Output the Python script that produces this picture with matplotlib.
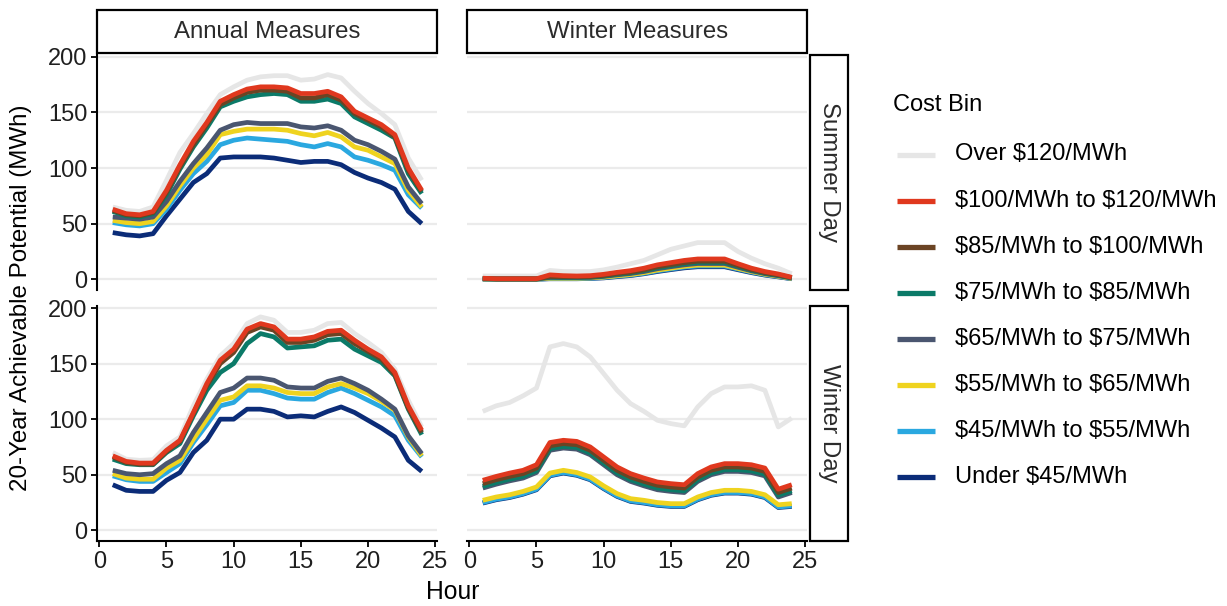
import numpy as np
import matplotlib
matplotlib.use('Agg')
import matplotlib.pyplot as plt
from matplotlib.patches import Rectangle
from matplotlib.lines import Line2D

plt.rcParams['font.family'] = ['Liberation Sans', 'DejaVu Sans']

# ---- data ----
hours = list(range(1, 25))

cost_bins = ['Over $120/MWh', '$100/MWh to $120/MWh', '$85/MWh to $100/MWh',
             '$75/MWh to $85/MWh', '$65/MWh to $75/MWh', '$55/MWh to $65/MWh',
             '$45/MWh to $55/MWh', 'Under $45/MWh']
bin_colors = ['#E6E6E6', '#E0381E', '#6B4424', '#0B7A68', '#4A5670',
              '#EFD31F', '#2AA8E0', '#0B2C78']

# Annual Measures, Summer Day
as_over = [65, 62, 61, 65, 89, 114, 131, 149, 166, 173, 179, 182, 183, 183, 179, 180, 184, 181, 169, 158, 149, 139, 109, 89]
as_100 = [63, 59, 58, 61, 80, 103, 124, 141, 160, 166, 171, 173, 173, 172, 167, 167, 169, 164, 151, 145, 139, 130, 100, 80]
as_85 = [62, 58, 57, 60, 78, 101, 121, 139, 157, 163, 168, 170, 170, 169, 163, 163, 166, 161, 149, 143, 137, 128, 98, 79]
as_75 = [61, 57, 56, 59, 76, 99, 119, 136, 155, 160, 164, 166, 167, 166, 160, 160, 162, 158, 146, 140, 134, 127, 95, 77]
as_65 = [56, 55, 54, 56, 70, 88, 104, 118, 134, 139, 141, 140, 140, 140, 137, 136, 138, 134, 125, 121, 115, 108, 83, 68]
as_55 = [53, 51, 50, 52, 66, 84, 100, 112, 130, 133, 135, 135, 135, 134, 131, 129, 132, 128, 119, 116, 110, 104, 80, 65]
as_45 = [51, 49, 48, 50, 63, 80, 95, 106, 121, 125, 127, 126, 125, 124, 121, 119, 122, 119, 110, 107, 103, 98, 76, 64]
as_under = [42, 40, 39, 41, 57, 72, 87, 95, 109, 110, 110, 110, 109, 107, 105, 106, 106, 103, 96, 91, 87, 81, 61, 50]

# Annual Measures, Winter Day
aw_over = [70, 64, 63, 63.5, 76, 84, 112, 136, 157, 168, 186, 192, 189, 178, 178, 180, 186, 187, 177, 169, 160, 145, 117, 93]
aw_100 = [67, 62, 60.5, 60.5, 72, 81, 106, 132, 153, 163, 181, 186, 183, 172, 172, 174, 179, 180, 171, 163, 156, 142, 112, 90]
aw_85 = [66, 61, 59.5, 59.5, 71, 80, 105, 130, 150, 160, 178, 183, 180, 169, 169, 171, 176, 177, 168, 161, 154, 140, 110, 88]
aw_75 = [64, 60, 59, 59, 70, 78, 103, 126, 142, 150, 168, 177, 174, 164, 165, 166, 171, 172, 163, 157, 151, 139, 109, 86]
aw_65 = [54, 51, 50, 51, 60, 67, 88, 106, 124, 128, 137, 137, 135, 129, 128, 128, 134, 137, 132, 126, 118, 109, 85, 69]
aw_55 = [51, 47, 46, 46, 56, 63, 82, 100, 117, 120, 130, 130, 128, 124, 123, 123, 129, 132, 128, 123, 116, 108, 84, 67]
aw_45 = [49, 45.5, 44, 44, 52, 60, 79, 95, 112, 115, 126, 126, 123, 119, 118, 118, 124, 128, 123, 117, 111, 103, 81, 66]
aw_under = [41, 36, 35, 35, 45, 52, 70, 81, 100, 100, 109, 109, 107, 102, 103, 102, 107, 111, 106, 99, 92, 84, 63, 53]

# Winter Measures, Summer Day
ws_over = [3, 3, 3, 3, 3, 8, 7, 7, 7, 8.5, 11, 14, 17, 22, 27, 30, 33, 33, 33, 25, 19, 14, 10, 5]
ws_100 = [1, 0.5, 0.5, 0.5, 0.5, 4, 3.3, 3, 3.3, 4.5, 6.3, 7.8, 10, 13, 15, 17, 18.3, 18.3, 18.3, 14, 10, 7, 4.8, 1.8]
ws_85 = [0.8, 0.4, 0.4, 0.4, 0.4, 2.5, 2.3, 2.2, 2.5, 3.5, 5.2, 6.5, 8.5, 11.3, 13.2, 15, 16.3, 16.3, 16.3, 12.5, 8.8, 6, 4, 1.5]
ws_75 = [0.6, 0.3, 0.3, 0.3, 0.3, 2, 1.8, 1.8, 2, 3, 4.6, 5.8, 7.8, 10.4, 12.2, 14, 15.2, 15.2, 15.2, 11.6, 8.2, 5.5, 3.6, 1.3]
ws_65 = [0.5, 0.3, 0.3, 0.3, 0.3, 1.6, 1.5, 1.5, 1.7, 2.6, 4, 5.2, 7, 9.5, 11.3, 13, 14.2, 14.2, 14.2, 10.8, 7.6, 5.1, 3.2, 1.1]
ws_55 = [0.3, 0.2, 0.2, 0.2, 0.2, 1, 1, 1, 1.3, 2, 3.2, 4.3, 6, 8.3, 10, 11.7, 12.8, 12.8, 12.8, 9.8, 7, 4.6, 2.8, 0.8]
ws_45 = [0.2, 0.1, 0.1, 0.1, 0.1, 0.7, 0.7, 0.7, 1, 1.6, 2.8, 3.8, 5.4, 7.6, 9.3, 11, 12, 12, 12, 9.2, 6.5, 4.2, 2.5, 0.6]
ws_under = [0.1, 0.1, 0.1, 0.1, 0.1, 0.5, 0.5, 0.5, 0.8, 1.3, 2.4, 3.4, 5, 7, 8.7, 10.3, 11.3, 11.3, 11.3, 8.6, 6, 3.8, 2.2, 0.5]

# Winter Measures, Winter Day
ww_over = [107, 112, 115, 121, 128, 165, 168, 165, 156, 141, 126, 114, 107, 99, 96, 94, 111, 123, 129, 129, 130, 126, 93, 101]
ww_100 = [45, 48.5, 51.5, 54, 59, 79, 81, 80, 75, 66, 57, 51, 47, 43.5, 42, 41, 51, 57, 60, 60, 59, 56, 37, 41]
ww_85 = [42, 45.5, 48.5, 51, 56, 76, 78, 77, 72, 63, 54, 48, 44, 40.5, 39, 38, 48, 54, 57, 57, 56, 53, 34, 38]
ww_75 = [39.5, 43, 46, 48.5, 53.5, 73.5, 75.5, 74.5, 69.5, 60.5, 51.5, 45.5, 41.5, 38, 36.5, 35.5, 45.5, 51.5, 54.5, 54.5, 53.5, 50.5, 31.5, 35.5]
ww_65 = [38, 41.5, 44.5, 47, 52, 72, 74, 73, 68, 59, 50, 44, 40, 36.5, 35, 34, 44, 50, 53, 53, 52, 49, 30, 34]
ww_55 = [27, 30, 32, 35, 39, 51.5, 54, 52, 48, 40, 33, 28.5, 27, 25, 24, 24, 30, 34, 36, 36, 35, 32, 23, 24]
ww_45 = [25, 28, 30, 33, 37, 49.5, 52, 50, 46, 38, 31, 26.5, 25, 23, 22, 22, 28, 32, 34, 34, 33, 30, 21, 22]
ww_under = [24.5, 27.5, 29.5, 32.5, 36.5, 49, 51.5, 49.5, 45.5, 37.5, 30.5, 26, 24.5, 22.5, 21.5, 21.5, 27.5, 31.5, 33.5, 33.5, 32.5, 29.5, 20.5, 21.5]

panels = {
    ('Annual Measures', 'Summer Day'): [as_over, as_100, as_85, as_75, as_65, as_55, as_45, as_under],
    ('Annual Measures', 'Winter Day'): [aw_over, aw_100, aw_85, aw_75, aw_65, aw_55, aw_45, aw_under],
    ('Winter Measures', 'Summer Day'): [ws_over, ws_100, ws_85, ws_75, ws_65, ws_55, ws_45, ws_under],
    ('Winter Measures', 'Winter Day'): [ww_over, ww_100, ww_85, ww_75, ww_65, ww_55, ww_45, ww_under],
}
measures = ['Annual Measures', 'Winter Measures']
days = ['Summer Day', 'Winter Day']

# draw order: grey first, then cheapest up to most expensive on top
draw_order = [0, 7, 6, 5, 4, 3, 2, 1]

W, H = 1227, 606
fig = plt.figure(figsize=(W / 100, H / 100), dpi=100)

# panel boxes in pixels (left, top, right, bottom)
col_x = [(97.3, 437.2), (467.3, 807.2)]
row_y = [(54.8, 290.0), (306.0, 541.0)]

txt_col = '#1f1f1f'
lw = 3.4

def fx(px):
    return px / W

def fy(py):
    return 1 - py / H

axes = {}
for r, day in enumerate(days):
    for c, meas in enumerate(measures):
        x0, x1 = col_x[c]
        y0, y1 = row_y[r]
        ax = fig.add_axes([fx(x0), fy(y1), fx(x1) - fx(x0), fy(y0) - fy(y1)])
        series = panels[(meas, day)]
        for i in draw_order:
            ax.plot(hours, series[i], color=bin_colors[i], lw=lw,
                    solid_joinstyle='round', solid_capstyle='butt')
        ax.set_xlim(-0.15, 25.15)
        ax.set_ylim(-9.6, 201.8)
        ax.set_xticks([0, 5, 10, 15, 20, 25])
        ax.set_yticks([0, 50, 100, 150, 200])
        ax.grid(axis='y', color='#EBEBEB', lw=1.6)
        ax.set_axisbelow(True)
        for s in ['top', 'right']:
            ax.spines[s].set_visible(False)
        ax.spines['left'].set_visible(c == 0)
        ax.spines['bottom'].set_visible(r == 1)
        for s in ['left', 'bottom']:
            ax.spines[s].set_linewidth(1.5)
            ax.spines[s].set_color('black')
        ax.tick_params(axis='y', left=(c == 0), labelleft=(c == 0), length=4,
                       width=1.3, labelsize=17, labelcolor=txt_col, pad=3)
        ax.tick_params(axis='x', bottom=(r == 1), labelbottom=(r == 1), length=4,
                       width=1.3, labelsize=17, labelcolor=txt_col, pad=3)
        axes[(r, c)] = ax

# top strips
for c, meas in enumerate(measures):
    x0, x1 = col_x[c]
    fig.add_artist(Rectangle((fx(x0), fy(52.5)), fx(x1) - fx(x0), fy(10) - fy(52.5),
                             transform=fig.transFigure, facecolor='white',
                             edgecolor='black', lw=1.6))
    fig.text(fx((x0 + x1) / 2), fy(31.5), meas, ha='center', va='center',
             fontsize=17.3, color='#2b2b2b')

# right strips
for r, day in enumerate(days):
    y0, y1 = row_y[r]
    fig.add_artist(Rectangle((fx(810), fy(y1)), fx(848) - fx(810), fy(y0) - fy(y1),
                             transform=fig.transFigure, facecolor='white',
                             edgecolor='black', lw=1.6))
    fig.text(fx(829), fy((y0 + y1) / 2), day, ha='center', va='center',
             rotation=-90, fontsize=17.3, color='#2b2b2b')

# axis titles
fig.text(fx(21), fy(298), '20-Year Achievable Potential (MWh)', rotation=90,
         ha='center', va='center', fontsize=17.4, color='black')
fig.text(fx(453), fy(592), 'Hour', ha='center', va='center', fontsize=17.8,
         color='black')

# legend
fig.text(fx(893), fy(105), 'Cost Bin', ha='left', va='center', fontsize=17,
         color='black')
for i, lab in enumerate(cost_bins):
    yy = 154.5 + 46.1 * i
    fig.add_artist(Line2D([fx(897), fx(935)], [fy(yy), fy(yy)],
                          transform=fig.transFigure, color=bin_colors[i], lw=3.8,
                          solid_capstyle='butt'))
    fig.text(fx(955), fy(yy), lab, ha='left', va='center', fontsize=17,
             color='black', parse_math=False)

fig.savefig('out.png', dpi=100)
